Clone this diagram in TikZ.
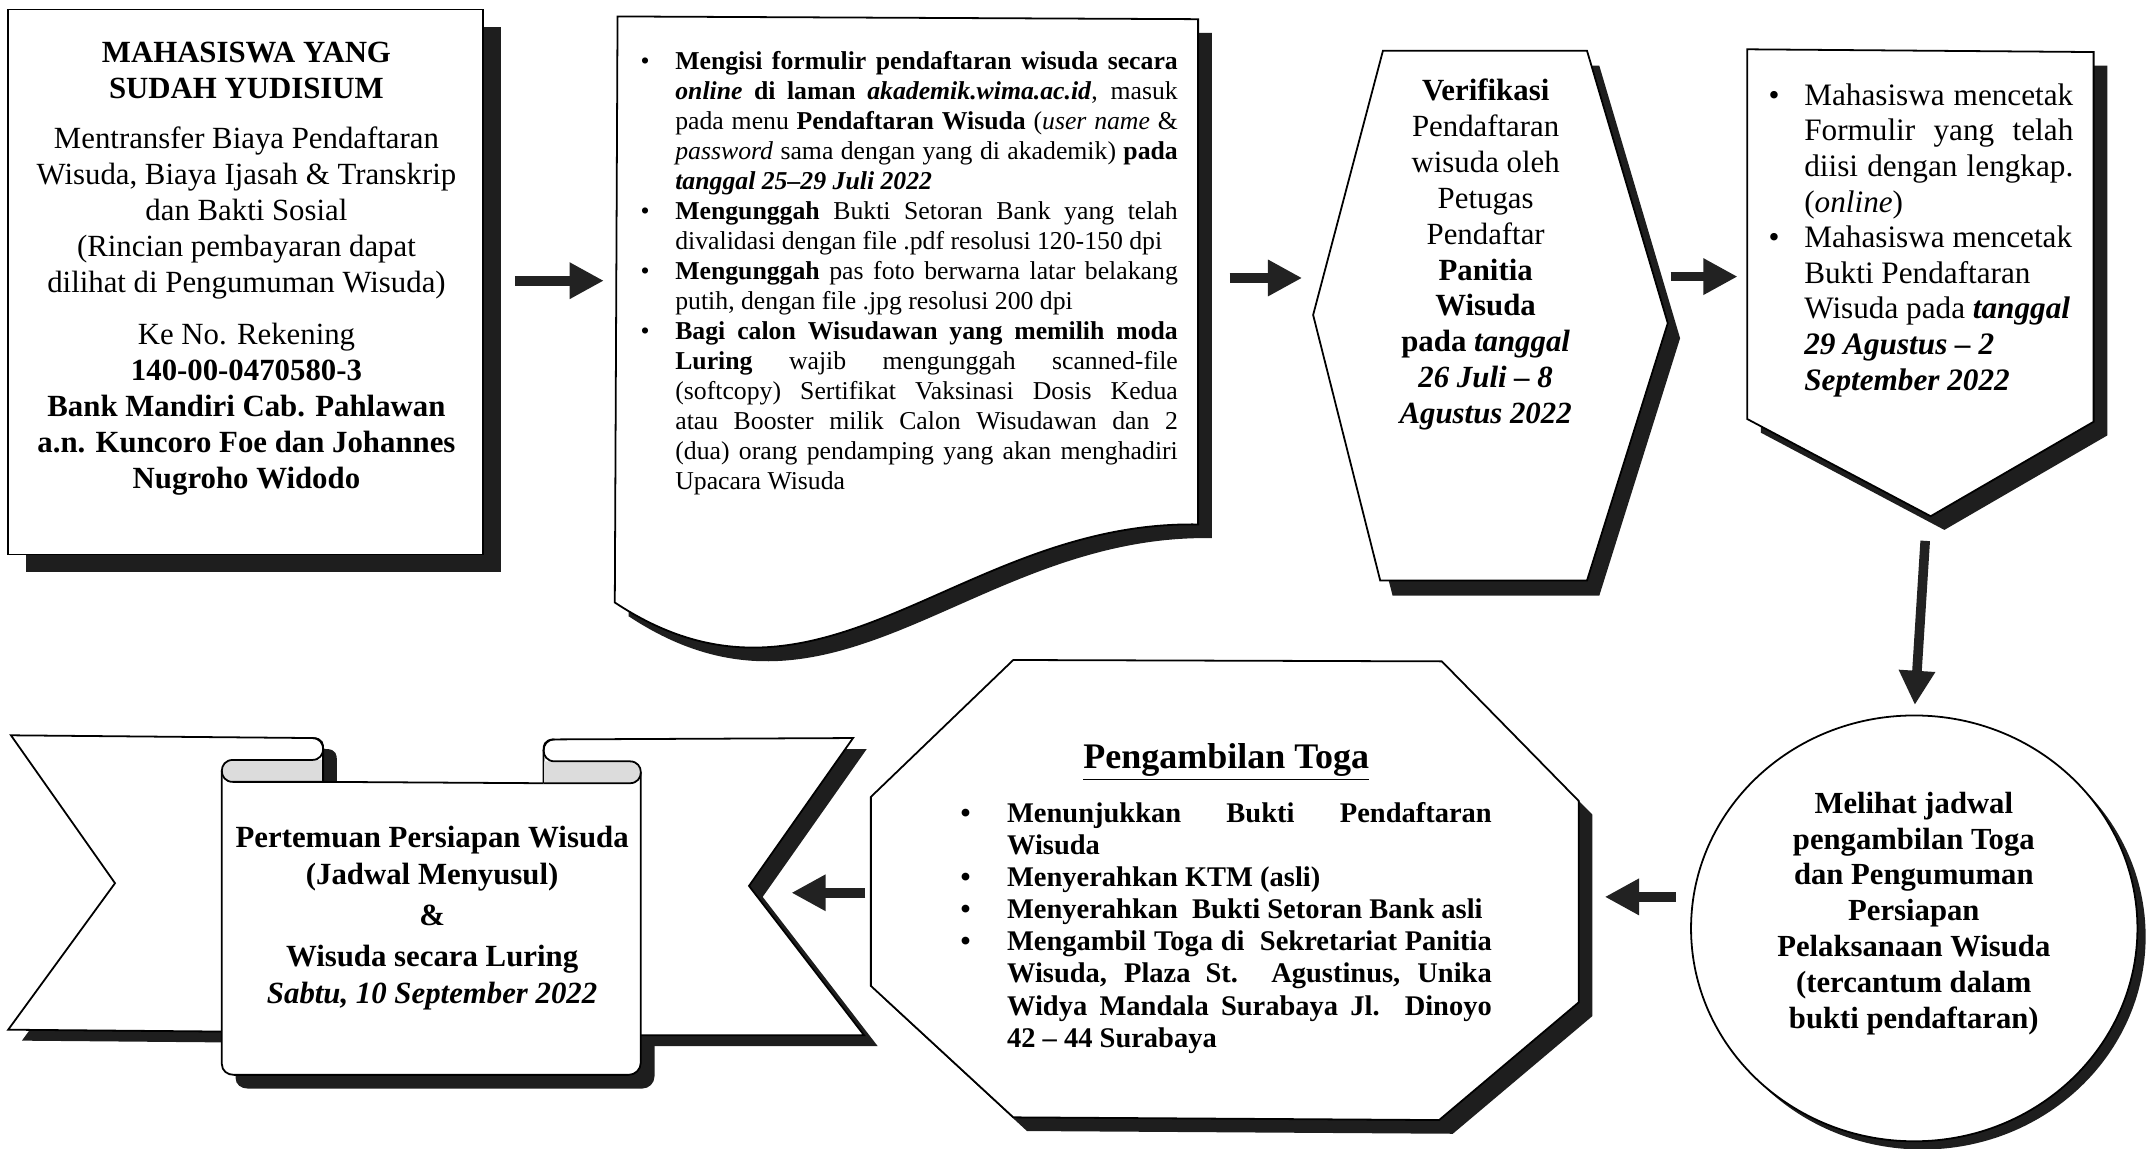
\documentclass[tikz,border=0pt]{standalone}
\usepackage{fontspec}
\setmainfont{Liberation Serif}
\usetikzlibrary{arrows.meta, shapes.geometric, shadows}

\definecolor{shade}{HTML}{1E1E1E}
\definecolor{rollgray}{HTML}{DCDCDC}
\definecolor{arrowcol}{HTML}{222222}

% justified line of a fixed width
\newcommand{\jl}[1]{\makebox[\linewidth][s]{#1}}

\begin{document}
\begin{tikzpicture}[x=1pt, y=-1pt,
  blok/.style={draw=black, fill=white, line width=1.3pt},
  bayang/.style={fill=shade},
  fat/.style={draw=arrowcol, line width=7pt, -{Triangle[length=25pt, width=25pt]}},
  txt/.style={inner sep=0pt, anchor=north}]

\useasboundingbox (0,0) rectangle (1568,839);

% shapes of the top row
\node [draw, line width=1.3pt, fill=white, inner sep=0pt, minimum width=347pt, minimum height=398pt,
  drop shadow={shadow xshift=13pt, shadow yshift=-13pt, opacity=1, fill=shade}] (mhsbox) at (179.5,206) {};

\fill [bayang, shift={(10,10)}] (451,12) -- (875,14) -- (875,383) .. controls (700,380) and (600,540) .. (449,440) -- cycle;
\draw [blok] (451,12) -- (875,14) -- (875,383) .. controls (700,380) and (600,540) .. (449,440) -- cycle;

\fill [bayang, shift={(9,11)}] (1010,37) -- (1159,37) -- (1218,236) -- (1159,424) -- (1008,424) -- (959,230) -- cycle;
\draw [blok] (1010,37) -- (1159,37) -- (1218,236) -- (1159,424) -- (1008,424) -- (959,230) -- cycle;

\fill [bayang, shift={(10,10)}] (1276,36) -- (1529,38) -- (1529,308) -- (1410,377) -- (1276,306) -- cycle;
\draw [blok] (1276,36) -- (1529,38) -- (1529,308) -- (1410,377) -- (1276,306) -- cycle;

% shapes of the bottom row
\node [ellipse, draw, line width=1.3pt, fill=white, inner sep=0pt, minimum width=326pt, minimum height=311pt,
  drop shadow={shadow xshift=6pt, shadow yshift=-6pt, opacity=1, fill=shade}] (lihat) at (1398,678) {};

\fill [bayang, shift={(10,10)}] (740,482) -- (1053,483) -- (1153,585) -- (1153,732) -- (1051,818) -- (740,816) -- (636,720) -- (636,582) -- cycle;
\draw [blok] (740,482) -- (1053,483) -- (1153,585) -- (1153,732) -- (1051,818) -- (740,816) -- (636,720) -- (636,582) -- cycle;

% ribbon
\fill [bayang, shift={(10,8)}] (8,537) -- (228,539) .. controls (236,539) and (236,544) .. (236,547) -- (236,754) -- (6,752) -- (84,645) -- cycle;
\fill [bayang, shift={(10,8)}] (623,539) -- (405,540) .. controls (397,540) and (397,545) .. (397,548) -- (397,756) -- (631,756) -- (547,647) -- cycle;
\fill [bayang, shift={(10,10)}] (162,563) -- (162,777) .. controls (162,782) and (166,785) .. (171,785) -- (459,785) .. controls (464,785) and (468,781) .. (468,776) -- (468,564) -- cycle;
\draw [blok] (8,537) -- (228,539) .. controls (236,539) and (236,544) .. (236,547) -- (236,754) -- (6,752) -- (84,645) -- cycle;
\draw [blok] (623,539) -- (405,540) .. controls (397,540) and (397,545) .. (397,548) -- (397,756) -- (631,756) -- (547,647) -- cycle;
\fill [white] (162,571) -- (162,777) .. controls (162,782) and (166,785) .. (171,785) -- (459,785) .. controls (464,785) and (468,781) .. (468,776) -- (468,572) -- cycle;
\draw [line width=1.3pt] (162,563) -- (162,777) .. controls (162,782) and (166,785) .. (171,785) -- (459,785) .. controls (464,785) and (468,781) .. (468,776) -- (468,564);
\draw [line width=1.3pt] (236,571) -- (397,572);
\fill [rollgray] (236,555) -- (170,555) .. controls (159.3,555) and (159.3,571) .. (170,571) -- (236,571) -- cycle;
\draw [line width=1.3pt] (228,539) .. controls (238.7,539) and (238.7,555) .. (228,555) -- (170,555) .. controls (159.3,555) and (159.3,571) .. (170,571) -- (236,571);
\draw [line width=1.3pt] (236,547) -- (236,571);
\fill [rollgray] (397,556) -- (460,556) .. controls (470.7,556) and (470.7,572) .. (460,572) -- (397,572) -- cycle;
\draw [line width=1.3pt] (405,540) .. controls (394.3,540) and (394.3,556) .. (405,556) -- (460,556) .. controls (470.7,556) and (470.7,572) .. (460,572) -- (397,572);
\draw [line width=1.3pt] (397,548) -- (397,572);

% texts
\node [txt, font={\fontsize{22.5}{26.3}\selectfont}] (mhs) at (180,27) {\begin{tabular}{@{}c@{}}
\textbf{MAHASISWA YANG}\\ \textbf{SUDAH YUDISIUM}\\[10pt]
Mentransfer Biaya Pendaftaran\\ Wisuda, Biaya Ijasah \& Transkrip\\ dan Bakti Sosial\\
(Rincian pembayaran dapat\\ dilihat di Pengumuman Wisuda)\\[12pt]
Ke No. Rekening\\ \textbf{140-00-0470580-3}\\ \textbf{Bank Mandiri Cab. Pahlawan}\\
\textbf{a.n. Kuncoro Foe dan Johannes}\\ \textbf{Nugroho Widodo}
\end{tabular}};

\node [txt, anchor=north west, font={\fontsize{18.8}{21.9}\selectfont}] (form) at (467.7,35.4) {\begin{tabular}{@{}p{25.3pt}@{}p{367pt}@{}}
\textbullet & \jl{\textbf{Mengisi formulir pendaftaran wisuda secara}}\\
& \jl{\textbf{\textit{online}} \textbf{di laman} \textbf{\textit{akademik.wima.ac.id}}, masuk}\\
& \jl{pada menu \textbf{Pendaftaran Wisuda} (\textit{user name} \&}\\
& \jl{\textit{password} sama dengan yang di akademik) \textbf{pada}}\\
& \textbf{\textit{tanggal 25--29 Juli 2022}}\\
\textbullet & \jl{\textbf{Mengunggah} Bukti Setoran Bank yang telah}\\
& divalidasi dengan file .pdf resolusi 120-150 dpi\\
\textbullet & \jl{\textbf{Mengunggah} pas foto berwarna latar belakang}\\
& putih, dengan file .jpg resolusi 200 dpi\\
\textbullet & \jl{\textbf{Bagi calon Wisudawan yang memilih moda}}\\
& \jl{\textbf{Luring} wajib mengunggah scanned-file}\\
& \jl{(softcopy) Sertifikat Vaksinasi Dosis Kedua}\\
& \jl{atau Booster milik Calon Wisudawan dan 2}\\
& \jl{(dua) orang pendamping yang akan menghadiri}\\
& Upacara Wisuda
\end{tabular}};

\node [txt, font={\fontsize{22.5}{26.2}\selectfont}] (verif) at (1085,55) {\begin{tabular}{@{}c@{}}
\textbf{Verifikasi}\\ Pendaftaran\\ wisuda oleh\\ Petugas\\ Pendaftar\\ \textbf{Panitia}\\ \textbf{Wisuda}\\
\textbf{pada \textit{tanggal}}\\ \textbf{\textit{26 Juli -- 8}}\\ \textbf{\textit{Agustus 2022}}
\end{tabular}};

\node [txt, anchor=north west, font={\fontsize{22.8}{26}\selectfont}] (cetak) at (1291.4,58.5) {\begin{tabular}{@{}p{26.1pt}@{}p{196.5pt}@{}}
\textbullet & \jl{Mahasiswa mencetak}\\
& \jl{Formulir yang telah}\\
& \jl{diisi dengan lengkap.}\\
& (\textit{online})\\
\textbullet & Mahasiswa mencetak\\
& Bukti Pendaftaran\\
& Wisuda pada \textbf{\textit{tanggal}}\\
& \textbf{\textit{29 Agustus -- 2}}\\
& \textbf{\textit{September 2022}}
\end{tabular}};

\node [txt, font={\bfseries\fontsize{22.4}{26.2}\selectfont}] (lihattext) at (1397.7,575.3) {\begin{tabular}{@{}c@{}}
Melihat jadwal\\ pengambilan Toga\\ dan Pengumuman\\ Persiapan\\ Pelaksanaan Wisuda\\ (tercantum dalam\\ bukti pendaftaran)
\end{tabular}};

\node [inner sep=0pt, anchor=base, font={\bfseries\fontsize{26.3}{30}\selectfont}] (togatitle) at (895.5,561.6) {\underline{Pengambilan Toga}};

\node [txt, anchor=north west, font={\bfseries\fontsize{20.8}{23.5}\selectfont}] (toga) at (701.4,583.7) {\begin{tabular}{@{}p{33.9pt}@{}p{354pt}@{}}
\textbullet & \jl{Menunjukkan Bukti Pendaftaran}\\
& Wisuda\\
\textbullet & Menyerahkan KTM (asli)\\
\textbullet & Menyerahkan\ \ Bukti Setoran Bank asli\\
\textbullet & \jl{Mengambil Toga di\ \ Sekretariat Panitia}\\
& \jl{Wisuda, Plaza St. Agustinus, Unika}\\
& \jl{Widya Mandala Surabaya Jl. Dinoyo}\\
& 42 -- 44 Surabaya
\end{tabular}};

\node [txt, font={\bfseries\fontsize{22.5}{27}\selectfont}] (wisuda) at (315.6,599.7) {\begin{tabular}{@{}c@{}}
Pertemuan Persiapan Wisuda\\ (Jadwal Menyusul)\\[3pt] \&\\[3pt] Wisuda secara Luring\\ \textit{Sabtu, 10 September 2022}
\end{tabular}};

% arrows
\coordinate (mhsE) at (376,205);
\coordinate (formW) at (441,205);
\coordinate (formE) at (898,203);
\coordinate (verifW) at (951,203);
\coordinate (verifE) at (1220,202);
\coordinate (cetakW) at (1269,202);
\coordinate (cetakS) at (1406,395);
\coordinate (lihatW) at (1224,655);
\coordinate (togaE) at (1172,655);
\coordinate (togaW) at (632,652);
\coordinate (wisudaE) at (578,652);

\draw [fat] (mhsE) -- (formW);
\draw [fat] (formE) -- (verifW);
\draw [fat] (verifE) -- (cetakW);
\draw [fat, shorten >=7pt] (cetakS) -- (lihat.north);
\draw [fat] (lihatW) -- (togaE);
\draw [fat] (togaW) -- (wisudaE);

\end{tikzpicture}
\end{document}
